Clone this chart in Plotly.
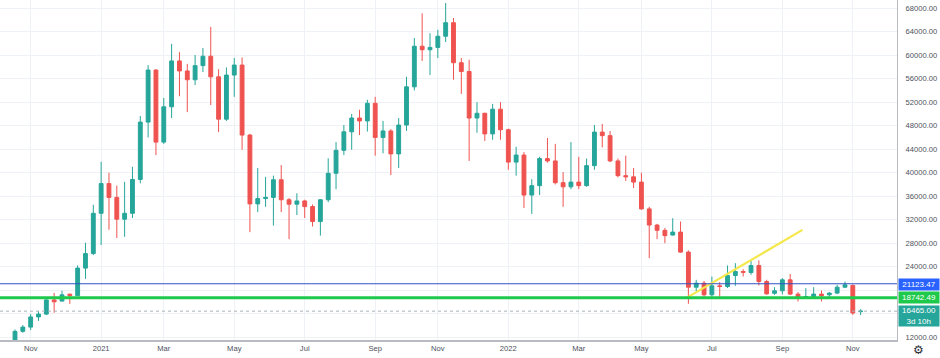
import pandas as pd
import plotly.graph_objects as go

# Weekly candles starting Monday 2020-10-19
start_week = "2020-10-19"
opens = [11500, 13030, 13750, 15480, 15960, 18370, 18180, 19350, 19100, 23780,
         26250, 33100, 38150, 35800, 32100, 33100, 38850, 48600, 57450, 45200,
         51200, 59000, 57300, 55800, 58200, 59800, 56300, 49100, 56600, 58300,
         46400, 34700, 35600, 35800, 38800, 35400, 34650, 35200, 34240, 31700,
         35400, 39900, 43800, 46950, 49300, 48800, 51800, 46000, 47100, 43200,
         48100, 54600, 61500, 60900, 61300, 63200, 65500, 58700, 57200, 49300,
         50100, 46600, 50800, 47300, 41800, 43000, 36200, 37800, 42400, 42000,
         38300, 37600, 38400, 37800, 41200, 46900, 46300, 42000, 39500, 39300,
         38400, 33850, 31100, 30200, 29400, 29900, 26500, 20540, 21220, 19240,
         20770, 20650, 22520, 23200, 23030, 24220, 21500, 19500, 19920, 21790,
         19360, 18780, 18950, 19360, 19240, 19530, 20540, 20840, 16380]
highs = [13350, 14100, 15970, 16500, 18750, 19570, 19920, 19450, 24250, 28100,
         34550, 41850, 40000, 37800, 38450, 41000, 49650, 58300, 57600, 52700,
         61900, 60500, 58500, 60000, 61200, 64800, 57600, 57900, 59500, 59600,
         46600, 40800, 39300, 39500, 41300, 35700, 36500, 35400, 34600, 35500,
         42460, 45200, 48100, 50000, 50700, 52400, 52900, 48800, 47400, 49300,
         56300, 62900, 67100, 63700, 64300, 68850, 66300, 59500, 59200, 52000,
         50200, 51700, 52000, 47500, 44400, 43500, 38900, 42700, 45900, 44900,
         40100, 45200, 42700, 42400, 48100, 48300, 47100, 42400, 42900, 40800,
         40000, 34200, 31300, 30600, 32270, 31700, 26800, 21790, 21600, 22350,
         21400, 24230, 24620, 23600, 25050, 25100, 21800, 20540, 22080, 22800,
         19700, 20380, 20540, 19970, 19700, 20940, 21500, 21000, 16800]
lows = [11400, 12800, 13250, 14800, 15800, 16200, 18100, 17700, 19000, 21960,
        26000, 27700, 30300, 28900, 29100, 32300, 38200, 46000, 43000, 44900,
        49300, 53000, 50300, 54900, 57100, 51500, 46900, 48800, 52900, 43900,
        29900, 33300, 34200, 31000, 33300, 28700, 32800, 32300, 30850, 29300,
        35000, 37200, 43000, 43900, 46400, 47000, 42900, 43300, 39600, 40800,
        47100, 54000, 59000, 56600, 59500, 62200, 55800, 53400, 42000, 46800,
        45400, 45600, 45600, 40500, 39500, 34000, 33000, 36200, 41700, 38000,
        34200, 37200, 37200, 37600, 40500, 44300, 41800, 39200, 38600, 37400,
        33700, 25470, 28700, 28020, 29300, 26400, 17710, 19800, 18900, 18900,
        18900, 20400, 20770, 22350, 22640, 20830, 19240, 19240, 19300, 19190,
        18100, 18700, 18900, 18100, 18900, 19350, 20380, 15840, 15800]
closes = [13030, 13750, 15480, 15960, 18370, 18050, 19240, 19100, 23780, 26250,
          33100, 38150, 35800, 32100, 33100, 38850, 48600, 57450, 45200, 51200,
          59000, 57300, 55800, 58200, 59800, 56300, 49100, 56600, 58300, 46400,
          34700, 35600, 35800, 38800, 35400, 34650, 35200, 34240, 31700, 35400,
          39900, 43800, 46950, 49300, 48800, 51800, 46000, 47100, 43200, 48100,
          54600, 61500, 60900, 61300, 63200, 65500, 58700, 57200, 49300, 50100,
          46600, 50800, 47300, 41800, 43000, 36200, 37800, 42400, 42000, 38300,
          37600, 38400, 37800, 41200, 46900, 46300, 42000, 39500, 39300, 38400,
          33850, 31100, 30200, 29300, 29900, 26500, 20540, 21220, 19240, 20770,
          20650, 22520, 23200, 23080, 24220, 21500, 19410, 19920, 21790, 19360,
          18780, 18950, 19360, 19070, 19530, 20540, 20940, 16150, 16465]

tick_dates = ["2020-11-02", "2021-01-04", "2021-03-01", "2021-05-03", "2021-07-05",
              "2021-09-06", "2021-11-01", "2022-01-03", "2022-03-07", "2022-05-02",
              "2022-07-04", "2022-09-05", "2022-11-07"]
tick_texts = ["Nov", "2021", "Mar", "May", "Jul", "Sep", "Nov", "2022", "Mar", "May",
              "Jul", "Sep", "Nov"]

price_ticks = [12000, 16000, 20000, 24000, 28000, 32000, 36000, 40000, 44000, 48000,
               52000, 56000, 60000, 64000, 68000]
hidden_price_labels = [16000, 20000]  # covered by the price boxes in the reference

blue_level = 21123.47
green_level = 18742.49
last_price = 16465.00
countdown = "3d 10h"
trend_x = ["2022-06-11", "2022-09-23"]
trend_y = [18680, 30280]

dates = pd.date_range(start_week, periods=len(opens), freq="7D")

UP = "#26a69a"
DOWN = "#ef5350"

fig = go.Figure()
fig.add_trace(go.Candlestick(
    x=dates, open=opens, high=highs, low=lows, close=closes,
    increasing=dict(line=dict(color=UP, width=1), fillcolor=UP),
    decreasing=dict(line=dict(color=DOWN, width=1), fillcolor=DOWN),
    hoverinfo="skip", showlegend=False,
))

fig.add_trace(go.Scatter(x=trend_x, y=trend_y, mode="lines",
                         line=dict(color="#f4e84c", width=2.2),
                         hoverinfo="skip", showlegend=False))

fig.add_hline(y=last_price, line=dict(color="#a9b3b8", width=1, dash="dot"))
fig.add_hline(y=blue_level, line=dict(color="#3050c4", width=1.2))
fig.add_hline(y=green_level, line=dict(color="#1fc94c", width=3))

tick_font = dict(family="Liberation Sans, Arial, sans-serif", size=7.6, color="#4c505b")

fig.update_layout(
    width=940, height=358,
    margin=dict(l=0, r=43, t=0, b=18),
    paper_bgcolor="white", plot_bgcolor="white",
    showlegend=False,
    font=tick_font,
    hovermode=False,
)
fig.update_xaxes(
    type="date",
    range=["2020-10-05 14:00", "2022-12-16 12:00"],
    rangeslider_visible=False,
    tickvals=tick_dates, ticktext=tick_texts,
    showgrid=True, gridcolor="#eef1f6", gridwidth=1,
    showline=True, linecolor="#b8bbc2", linewidth=2,
    ticks="", tickfont=tick_font,
    zeroline=False,
)
fig.update_yaxes(
    side="right",
    range=[11560, 69360],
    tickvals=price_ticks,
    ticktext=["" if v in hidden_price_labels else f"{v:.2f}" for v in price_ticks],
    showgrid=True, gridcolor="#eef1f6", gridwidth=1,
    showline=True, linecolor="#b8bbc2", linewidth=1,
    ticks="", ticklabelstandoff=6, tickfont=tick_font,
    zeroline=False,
)

box_font = dict(family="Liberation Sans, Arial, sans-serif", size=8, color="white")
fig.add_annotation(xref="paper", x=1, xanchor="left", xshift=1,
                   yref="y", y=blue_level, yanchor="middle", yshift=-1,
                   text=f"{blue_level:.2f}", showarrow=False,
                   bgcolor="#2962ff", font=box_font, width=38, height=9, borderpad=1)
fig.add_annotation(xref="paper", x=1, xanchor="left", xshift=1,
                   yref="y", y=green_level, yanchor="middle",
                   text=f"{green_level:.2f}", showarrow=False,
                   bgcolor="#1fc94c", font=box_font, width=38, height=9, borderpad=1)
fig.add_annotation(xref="paper", x=1, xanchor="left", xshift=1,
                   yref="y", y=last_price, yanchor="top", yshift=6,
                   text=f"{last_price:.2f}<br>{countdown}", showarrow=False, align="center",
                   bgcolor=UP, font=box_font, width=38, height=18, borderpad=1)
fig.add_annotation(xref="paper", x=1, xanchor="left", xshift=14,
                   yref="paper", y=0, yanchor="top", yshift=-1,
                   text="⚙", showarrow=False,
                   font=dict(family="DejaVu Sans", size=12, color="#2a2e39"))

fig.write_html("out.html")
